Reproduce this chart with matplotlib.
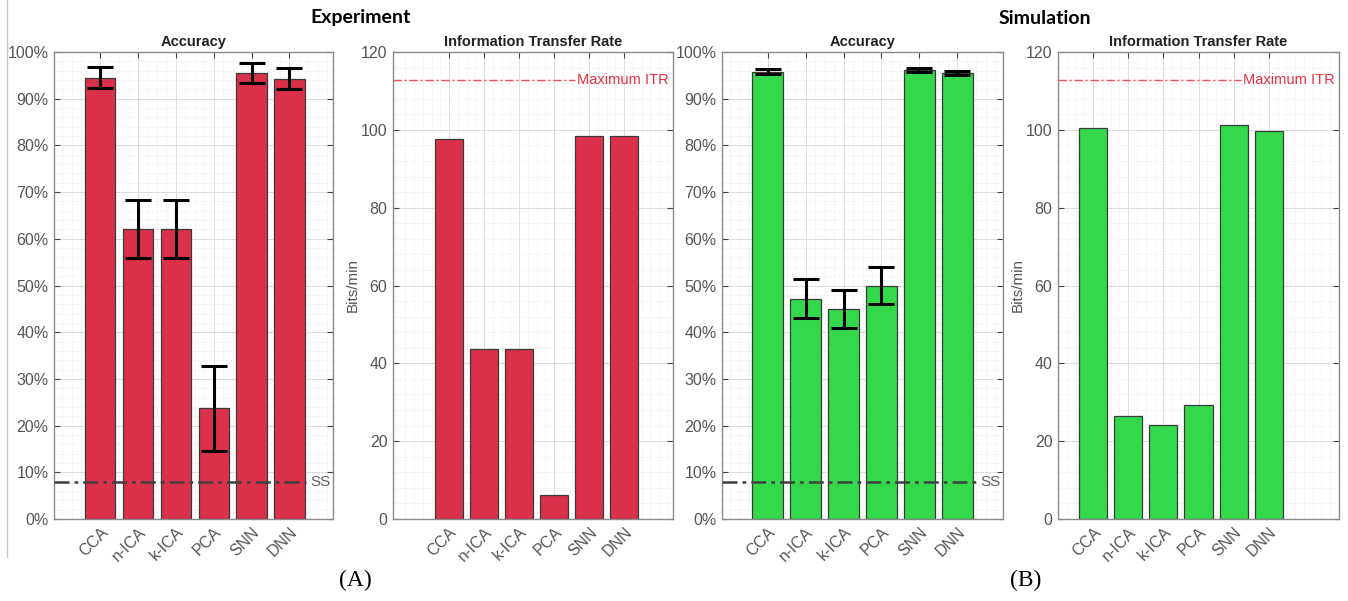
import matplotlib
matplotlib.use("Agg")
import matplotlib.pyplot as plt
from matplotlib.ticker import AutoMinorLocator, FixedLocator, PercentFormatter
from matplotlib.lines import Line2D

methods = ["CCA", "n-ICA", "k-ICA", "PCA", "SNN", "DNN"]

exp_acc = [94.5, 62.1, 62.1, 23.7, 95.5, 94.3]
exp_acc_err = [2.2, 6.2, 6.2, 9.1, 2.2, 2.2]
exp_itr = [97.7, 43.7, 43.7, 6.2, 98.5, 98.5]

sim_acc = [95.8, 47.2, 45.0, 50.0, 96.1, 95.5]
sim_acc_err = [0.5, 4.1, 4.1, 4.0, 0.4, 0.4]
sim_itr = [100.4, 26.4, 24.2, 29.4, 101.3, 99.8]

ss_level = 8.0
max_itr = 112.9

RED = "#DA304A"
GREEN = "#33D94B"
TICKC = "#555555"
SPINEC = "#8a8a8a"

plt.rcParams["font.family"] = ["Liberation Sans", "DejaVu Sans"]

fig = plt.figure(figsize=(13.48, 6.01), dpi=100)
W, H = 1348, 601

def axpos(l, r, t=52, b=519):
    return [l / W, (H - b) / H, (r - l) / W, (b - t) / H]

pos = [axpos(54, 333), axpos(393, 673), axpos(722, 1003), axpos(1058, 1339)]
xl = [(-0.22, 7.15), (-0.6, 7.4), (-0.2, 7.2), (0.0, 8.0)]

x = list(range(1, len(methods) + 1))


def style(ax, ymax, ystep, xlim):
    ax.set_xlim(*xlim)
    ax.set_ylim(0, ymax)
    ax.xaxis.set_major_locator(FixedLocator(x))
    ax.set_xticklabels(methods, rotation=45, ha="right", rotation_mode="anchor",
                       fontsize=11.5, color=TICKC)
    ax.set_yticks([i * ystep for i in range(int(ymax / ystep) + 1)])
    ax.yaxis.set_minor_locator(AutoMinorLocator(5))
    ax.xaxis.set_minor_locator(AutoMinorLocator(4))
    ax.tick_params(axis="both", which="major", direction="in", length=4,
                   width=0.8, color="#444444", top=True, right=True,
                   labelsize=11.5, labelcolor=TICKC, pad=4)
    ax.tick_params(axis="both", which="minor", length=0, top=True, right=True)
    ax.grid(True, which="major", color="#dcdcdc", lw=0.7, ls="-")
    ax.grid(True, which="minor", color="#e6e6e6", lw=0.6, ls=":")
    ax.set_axisbelow(True)
    for s in ax.spines.values():
        s.set_color(SPINEC)
        s.set_linewidth(1.0)


def acc_panel(ax, vals, errs, color, xlim):
    ax.bar(x, vals, width=0.8, color=color, edgecolor="#3a3a3a", linewidth=0.9, zorder=2)
    ax.errorbar(x, vals, yerr=errs, fmt="none", ecolor="black", elinewidth=2.2,
                capsize=9.5, capthick=2.2, zorder=3)
    style(ax, 100, 10, xlim)
    ax.yaxis.set_major_formatter(PercentFormatter(decimals=0))
    ax.set_title("Accuracy", fontsize=10.5, fontweight="bold", color="#222222", pad=4)
    ax.axhline(ss_level, xmin=0, xmax=0.905, color="#404040", lw=1.8, ls=(0, (6, 2, 1.5, 2)), zorder=4)
    ax.text(0.99, ss_level, "SS", transform=ax.get_yaxis_transform(), ha="right",
            va="center", fontsize=11, color="#606060", zorder=5)


def itr_panel(ax, vals, color, xlim):
    ax.bar(x, vals, width=0.8, color=color, edgecolor="#3a3a3a", linewidth=0.9, zorder=2)
    style(ax, 120, 20, xlim)
    ax.set_title("Information Transfer Rate", fontsize=10.5, fontweight="bold",
                 color="#222222", pad=4)
    ax.set_ylabel("Bits/min", fontsize=11, color=TICKC, labelpad=1)
    ax.axhline(max_itr, xmin=0, xmax=0.65, color="#F0505A", lw=1.0,
               ls=(0, (6, 2, 1.5, 2)), zorder=4)
    ax.text(0.985, max_itr, "Maximum ITR", transform=ax.get_yaxis_transform(), ha="right",
            va="center", fontsize=10.5, color="#E8303F", zorder=5)


ax1 = fig.add_axes(pos[0])
acc_panel(ax1, exp_acc, exp_acc_err, RED, xl[0])
ax2 = fig.add_axes(pos[1])
itr_panel(ax2, exp_itr, RED, xl[1])
ax3 = fig.add_axes(pos[2])
acc_panel(ax3, sim_acc, sim_acc_err, GREEN, xl[2])
ax4 = fig.add_axes(pos[3])
itr_panel(ax4, sim_itr, GREEN, xl[3])

fig.text(361 / W, 1 - 18 / H, "Experiment", ha="center", va="center", fontsize=14,
         fontweight="bold", family=["Lato", "DejaVu Sans"], color="black")
fig.text(1045 / W, 1 - 18 / H, "Simulation", ha="center", va="center", fontsize=14,
         fontweight="bold", family=["Lato", "DejaVu Sans"], color="black")
fig.text(355 / W, 1 - 580 / H, "(A)", ha="center", va="center", fontsize=17,
         family=["Liberation Serif", "DejaVu Serif"], color="black")
fig.text(1026 / W, 1 - 580 / H, "(B)", ha="center", va="center", fontsize=17,
         family=["Liberation Serif", "DejaVu Serif"], color="black")

fig.add_artist(Line2D([7 / W, 7 / W], [1, 1 - 557 / H], transform=fig.transFigure,
                      color="#c8c8c8", lw=1.0))

fig.savefig("out.png", dpi=100)
